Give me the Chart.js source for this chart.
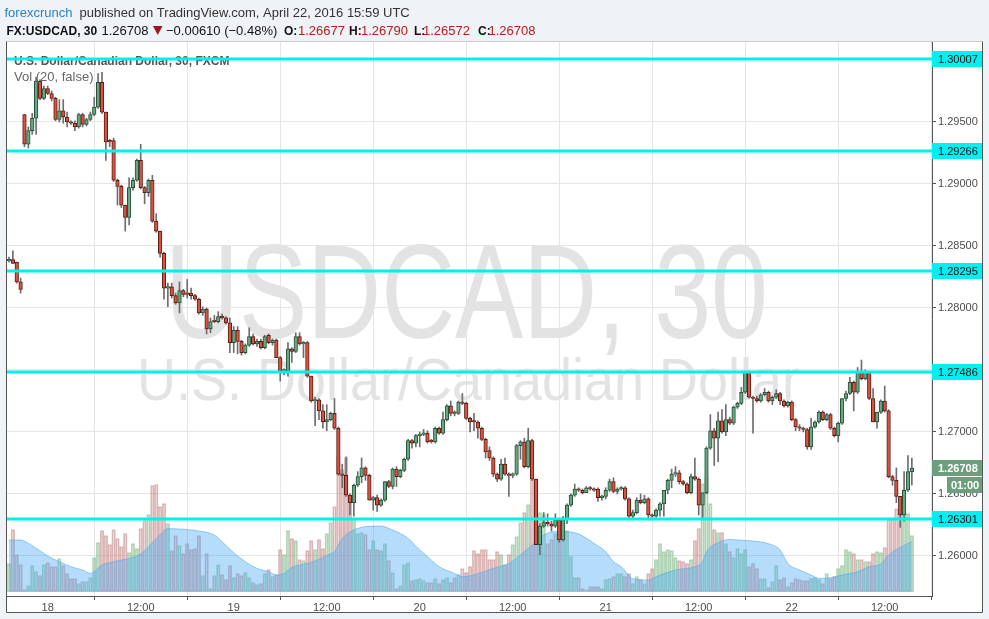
<!DOCTYPE html>
<html>
<head>
<meta charset="utf-8">
<title>USDCAD 30</title>
<script src="https://cdn.jsdelivr.net/npm/chart.js@4.4.1/dist/chart.umd.min.js"></script>
<style>
  html, body { margin: 0; padding: 0; background: #eff2f6; }
  #wrap { position: relative; width: 989px; height: 619px; }
</style>
</head>
<body>
<div id="wrap"><canvas id="chart" width="989" height="619"></canvas></div>
<script>
// 30 min candles, 0 = Friday 15th (last 4 bars), 4 = Sunday open, 10 = 18th 00:00
const opens = [
  1.2838,1.2839,1.2837,1.2821,
  1.2956,1.2932,1.2943,1.2953,1.2983,1.2969,1.2977,1.2973,1.2969,1.2952,
  1.2959,1.2954,1.2950,1.2949,1.2946,1.2956,1.2948,1.2952,1.2956,1.2962,
  1.2982,1.2958,1.2935,1.2935,1.2903,1.2898,1.2883,1.2873,1.2897,1.2903,
  1.2919,1.2897,1.2893,1.2903,1.2870,1.2862,1.2844,1.2816,1.2817,1.2810,
  1.2804,1.2814,1.2812,1.2812,1.2810,1.2807,1.2796,1.2799,1.2783,1.2790,
  1.2789,1.2793,1.2792,1.2788,1.2772,1.2782,1.2773,1.2764,1.2770,1.2777,
  1.2771,1.2773,1.2768,1.2778,1.2772,1.2774,1.2760,1.2749,1.2749,1.2767,
  1.2765,1.2777,1.2771,1.2772,1.2745,1.2725,1.2726,1.2717,1.2708,1.2710,
  1.2715,1.2703,1.2666,1.2665,1.2649,1.2643,1.2657,1.2664,1.2671,1.2665,
  1.2645,1.2647,1.2641,1.2645,1.2660,1.2656,1.2670,1.2664,1.2669,1.2678,
  1.2693,1.2691,1.2697,1.2698,1.2699,1.2693,1.2692,1.2703,1.2699,1.2710,
  1.2721,1.2716,1.2715,1.2724,1.2723,1.2711,1.2709,1.2708,1.2703,1.2694,
  1.2685,1.2679,1.2666,1.2662,1.2674,1.2666,1.2665,1.2666,1.2689,1.2692,
  1.2672,1.2693,1.2662,1.2609,1.2624,1.2627,1.2626,1.2624,1.2629,1.2613,
  1.2629,1.2641,1.2649,1.2654,1.2653,1.2651,1.2655,1.2654,1.2654,1.2647,
  1.2648,1.2653,1.2660,1.2652,1.2654,1.2655,1.2646,1.2632,1.2635,1.2645,
  1.2643,1.2646,1.2633,1.2632,1.2637,1.2642,1.2653,1.2661,1.2666,1.2667,
  1.2660,1.2658,1.2651,1.2664,1.2662,1.2641,1.2651,1.2687,1.2701,1.2695,
  1.2709,1.2700,1.2710,1.2707,1.2720,1.2723,1.2732,1.2748,1.2728,1.2727,
  1.2725,1.2730,1.2732,1.2725,1.2728,1.2731,1.2725,1.2721,1.2724,1.2710,
  1.2704,1.2703,1.2702,1.2688,1.2704,1.2708,1.2716,1.2710,1.2714,1.2703,
  1.2697,1.2707,1.2727,1.2731,1.2740,1.2732,1.2749,1.2743,1.2748,1.2727,
  1.2708,1.2716,1.2725,1.2717,1.2664,1.2661,1.2648,1.2633,1.2653,1.26677
];
const highs = [
  1.2841,1.2846,1.2837,1.2824,
  1.2956,1.2946,1.2957,1.2986,1.2984,1.2979,1.2979,1.2975,1.2970,1.2968,
  1.2968,1.2958,1.2951,1.2951,1.2957,1.2957,1.2953,1.2958,1.2970,1.2989,
  1.2990,1.2958,1.2936,1.2937,1.2904,1.2899,1.2883,1.2905,1.2905,1.2920,
  1.2932,1.2898,1.2904,1.2907,1.2876,1.2862,1.2845,1.2820,1.2820,1.2812,
  1.2821,1.2815,1.2823,1.2816,1.2811,1.2808,1.2801,1.2800,1.2792,1.2794,
  1.2797,1.2795,1.2793,1.2792,1.2785,1.2785,1.2774,1.2771,1.2784,1.2779,
  1.2775,1.2775,1.2778,1.2779,1.2775,1.2775,1.2761,1.2751,1.2772,1.2768,
  1.2780,1.2780,1.2773,1.2773,1.2745,1.2728,1.2727,1.2722,1.2722,1.2716,
  1.2727,1.2704,1.2674,1.2680,1.2650,1.2658,1.2668,1.2679,1.2672,1.2666,
  1.2648,1.2649,1.2646,1.2660,1.2661,1.2671,1.2672,1.2670,1.2679,1.2694,
  1.2694,1.2698,1.2700,1.2702,1.2701,1.2694,1.2704,1.2704,1.2716,1.2722,
  1.2725,1.2717,1.2725,1.2731,1.2724,1.2712,1.2715,1.2709,1.2704,1.2695,
  1.2688,1.2680,1.2667,1.2678,1.2679,1.2667,1.2667,1.2690,1.2693,1.2695,
  1.2703,1.2694,1.2662,1.2626,1.2635,1.2634,1.2628,1.2634,1.2630,1.2632,
  1.2642,1.2650,1.2658,1.2655,1.2654,1.2656,1.2656,1.2655,1.2655,1.2649,
  1.2655,1.2662,1.2663,1.2655,1.2656,1.2656,1.2647,1.2637,1.2647,1.2650,
  1.2649,1.2647,1.2634,1.2638,1.2643,1.2653,1.2662,1.2670,1.2672,1.2669,
  1.2661,1.2659,1.2666,1.2679,1.2663,1.2651,1.2688,1.2714,1.2703,1.2716,
  1.2718,1.2722,1.2712,1.2721,1.2724,1.2736,1.2749,1.2749,1.2729,1.2729,
  1.2731,1.2735,1.2733,1.2729,1.2734,1.2732,1.2726,1.2725,1.2725,1.2711,
  1.2706,1.2704,1.2703,1.2711,1.2709,1.2717,1.2717,1.2715,1.2715,1.2704,
  1.2708,1.2727,1.2733,1.2744,1.2741,1.2752,1.2758,1.2750,1.2749,1.2735,
  1.2716,1.2726,1.2737,1.2718,1.2665,1.2671,1.2648,1.2668,1.2681,1.2679
];
const lows = [
  1.2837,1.2836,1.2820,1.2812,
  1.2930,1.2929,1.2940,1.2940,1.2968,1.2968,1.2972,1.2967,1.2951,1.2950,
  1.2949,1.2946,1.2948,1.2943,1.2945,1.2946,1.2947,1.2951,1.2955,1.2961,
  1.2957,1.2919,1.2930,1.2902,1.2883,1.2881,1.2862,1.2867,1.2895,1.2902,
  1.2896,1.2884,1.2890,1.2869,1.2861,1.2841,1.2807,1.2801,1.2808,1.2803,
  1.2796,1.2809,1.2808,1.2807,1.2806,1.2795,1.2794,1.2779,1.2780,1.2788,
  1.2788,1.2791,1.2787,1.2764,1.2764,1.2763,1.2762,1.2763,1.2769,1.2770,
  1.2769,1.2767,1.2767,1.2771,1.2770,1.2760,1.2741,1.2746,1.2745,1.2756,
  1.2764,1.2770,1.2760,1.2744,1.2724,1.2705,1.2710,1.2703,1.2701,1.2709,
  1.2702,1.2665,1.2655,1.2648,1.2633,1.2632,1.2656,1.2659,1.2661,1.2645,
  1.2637,1.2636,1.2640,1.2644,1.2655,1.2654,1.2656,1.2663,1.2668,1.2677,
  1.2687,1.2688,1.2688,1.2697,1.2691,1.2691,1.2691,1.2698,1.2698,1.2709,
  1.2713,1.2713,1.2714,1.2722,1.2710,1.2700,1.2701,1.2695,1.2693,1.2679,
  1.2677,1.2664,1.2660,1.2661,1.2665,1.2648,1.2663,1.2665,1.2678,1.2671,
  1.2671,1.2661,1.2609,1.2601,1.2623,1.2624,1.2620,1.2623,1.2611,1.2612,
  1.2626,1.2640,1.2648,1.2652,1.2650,1.2651,1.2653,1.2652,1.2644,1.2645,
  1.2646,1.2652,1.2651,1.2650,1.2653,1.2645,1.2630,1.2630,1.2634,1.2642,
  1.2642,1.2629,1.2629,1.2631,1.2632,1.2632,1.2650,1.2655,1.2664,1.2658,
  1.2657,1.2650,1.2650,1.2661,1.2633,1.2631,1.2650,1.2686,1.2673,1.2676,
  1.2699,1.2697,1.2706,1.2706,1.2719,1.2722,1.2731,1.2727,1.2699,1.2724,
  1.2724,1.2729,1.2724,1.2722,1.2727,1.2722,1.2720,1.2720,1.2709,1.2701,
  1.2701,1.2700,1.2686,1.2686,1.2703,1.2707,1.2709,1.2709,1.2702,1.2696,
  1.2692,1.2706,1.2725,1.2730,1.2717,1.2731,1.2742,1.2742,1.2726,1.2708,
  1.2703,1.2715,1.2716,1.2663,1.2657,1.2643,1.2623,1.2628,1.2652,1.26572
];
const closes = [
  1.2839,1.2836,1.2821,1.2815,
  1.2932,1.2943,1.2953,1.2983,1.2969,1.2977,1.2973,1.2969,1.2952,1.2959,
  1.2954,1.2950,1.2949,1.2946,1.2956,1.2948,1.2952,1.2956,1.2962,1.2982,
  1.2958,1.2934,1.2934,1.2903,1.2898,1.2883,1.2873,1.2897,1.2903,1.2919,
  1.2897,1.2893,1.2903,1.2870,1.2862,1.2844,1.2816,1.2817,1.2810,1.2804,
  1.2814,1.2811,1.2811,1.2810,1.2807,1.2796,1.2799,1.2783,1.2789,1.2789,
  1.2793,1.2792,1.2788,1.2772,1.2782,1.2773,1.2764,1.2770,1.2777,1.2771,
  1.2773,1.2768,1.2777,1.2772,1.2774,1.2760,1.2749,1.2750,1.2767,1.2765,
  1.2777,1.2771,1.2772,1.2745,1.2725,1.2726,1.2717,1.2708,1.2710,1.2715,
  1.2703,1.2666,1.2665,1.2649,1.2643,1.2657,1.2664,1.2671,1.2665,1.2645,
  1.2647,1.2641,1.2645,1.2660,1.2656,1.2670,1.2664,1.2669,1.2678,1.2693,
  1.2691,1.2697,1.2698,1.2699,1.2692,1.2692,1.2703,1.2699,1.2710,1.2721,
  1.2715,1.2715,1.2724,1.2723,1.2711,1.2708,1.2708,1.2703,1.2694,1.2684,
  1.2679,1.2666,1.2662,1.2674,1.2666,1.2665,1.2666,1.2689,1.2692,1.2672,
  1.2693,1.2662,1.2609,1.2624,1.2627,1.2626,1.2624,1.2629,1.2613,1.2629,
  1.2641,1.2649,1.2654,1.2653,1.2651,1.2655,1.2654,1.2653,1.2647,1.2648,
  1.2653,1.2660,1.2652,1.2654,1.2655,1.2646,1.2632,1.2635,1.2645,1.2643,
  1.2646,1.2633,1.2632,1.2637,1.2642,1.2653,1.2661,1.2666,1.2667,1.2660,
  1.2658,1.2651,1.2664,1.2662,1.2641,1.2651,1.2687,1.2701,1.2695,1.2709,
  1.2700,1.2710,1.2707,1.2720,1.2723,1.2732,1.2748,1.2728,1.2727,1.2725,
  1.2730,1.2732,1.2725,1.2728,1.2731,1.2725,1.2721,1.2724,1.2710,1.2704,
  1.2703,1.2702,1.2688,1.2704,1.2708,1.2716,1.2710,1.2714,1.2703,1.2697,
  1.2707,1.2727,1.2731,1.2740,1.2732,1.2749,1.2743,1.2748,1.2727,1.2708,
  1.2716,1.2725,1.2717,1.2664,1.2661,1.2648,1.2633,1.2653,1.2668,1.26708
];
const volumes = [
  28,62,37,27,
  2,6,26,20,16,27,29,25,25,33,
  26,18,13,13,8,10,10,14,34,49,
  61,56,47,62,53,45,58,39,48,43,
  63,71,77,106,107,85,88,68,41,56,
  46,38,48,42,43,56,16,38,3,16,
  27,17,12,26,14,18,16,19,14,9,
  7,8,18,22,15,17,42,37,61,53,
  51,32,31,41,51,42,52,43,58,69,
  85,136,122,134,95,73,58,59,57,42,
  51,42,41,48,31,19,3,6,27,29,
  11,12,13,11,9,9,13,8,12,14,
  9,14,17,23,19,25,41,38,42,42,
  32,32,40,37,27,37,47,55,69,79,
  87,112,108,79,77,48,52,58,65,62,
  61,35,14,14,3,2,5,5,5,3,
  12,13,15,18,18,15,18,8,15,12,
  8,18,23,32,48,40,42,41,34,31,
  30,28,32,51,63,108,114,88,62,59,
  59,48,40,34,43,38,42,25,28,23,
  13,13,4,10,26,12,14,5,9,13,
  12,11,11,13,14,12,8,18,13,15,
  23,26,42,40,38,32,32,30,30,38,
  40,39,44,72,72,83,82,79,78,56
];
// Vol MA(20) at these bars
const maIdx  = [0,3,5,8,10,13,16,19,21,22,24,26,29,31,34,36,39,41,44,49,53,55,58,61,64,67,69,71,73,77,80,83,84,86,89,92,96,98,101,103,106,109,111,115,117,120,121,125,129,134,138,141,144,147,151,154,156,158,161,165,167,172,177,179,180,183,186,188,192,196,199,201,204,207,209,212,215,219,222,225,227,230,233];
const maVals = [51.7,51.7,48.3,41,35.7,30,25,21.7,18.3,20,26.7,29,31.7,33.3,37.7,45,57,63,62.7,60.7,56.7,50,39,30,23.3,20,16.7,18.3,24.3,28.3,32.3,38,40,53.3,61.7,65,65.7,63.3,58.3,53.3,41.7,31.7,25,18.3,15,16.7,18,23.3,28.3,43.3,56.7,60,60,57.7,48.3,40,30,25,13,11.7,15,21.7,25,30,40,49,52.3,51.7,50.7,48,41.7,28.3,21.7,16.7,13.3,14,16.7,20,25,27.7,36.7,44.3,50];

const levels = [1.30007, 1.29266, 1.28295, 1.27486, 1.26301];
const priceTicks = [1.260, 1.265, 1.270, 1.275, 1.280, 1.285, 1.290, 1.295, 1.300];
const timeTickIdx = [10, 34, 58, 82, 106, 130, 154, 178, 202, 226];
const timeTickLabels = ['18', '12:00', '19', '12:00', '20', '12:00', '21', '12:00', '22', '12:00'];
const lastPrice = 1.26708;
const countdown = '01:00';

const FONT = '"Liberation Sans", Arial, sans-serif';
Chart.defaults.font.family = FONT;

const idx = opens.map((_, i) => i);
const isUp = idx.map(i => closes[i] >= opens[i]);

function fitText(c, text, cx, baseline, size, width) {
  c.font = size + 'px ' + FONT;
  const w = c.measureText(text).width;
  c.save();
  c.translate(cx, baseline);
  c.scale(width / w, 1);
  c.textAlign = 'center';
  c.fillText(text, 0, 0);
  c.restore();
}

function put(c, text, x, y, font, color) {
  c.font = font;
  c.fillStyle = color;
  c.fillText(text, x, y);
}

const framePlugin = {
  id: 'frame',
  beforeDraw(chart) {
    const c = chart.ctx;
    c.save();
    c.fillStyle = '#eff2f6';
    c.fillRect(0, 0, chart.width, chart.height);
    c.fillStyle = '#ffffff';
    c.fillRect(6.5, 41.5, 976, 571);

    // header lines
    c.textBaseline = 'alphabetic';
    c.textAlign = 'left';
    put(c, 'forexcrunch', 4.5, 17, '13px ' + FONT, '#2a83c2');
    put(c, 'published on TradingView.com, April 22, 2016 15:59 UTC', 79.5, 17, '13px ' + FONT, '#333');

    const b = 'bold 12px ' + FONT, n = '13px ' + FONT, red = '#b3201f';
    put(c, 'FX:USDCAD, 30', 6.5, 35, b, '#111');
    put(c, '1.26708', 101.5, 35, n, '#111');
    c.fillStyle = '#9b1b1b';
    c.beginPath(); c.moveTo(153, 26); c.lineTo(162.5, 26); c.lineTo(157.75, 35); c.closePath(); c.fill();
    put(c, '\u22120.00610 (\u22120.48%)', 166, 35, n, '#111');
    put(c, 'O:', 284, 35, b, '#111'); put(c, '1.26677', 298, 35, n, red);
    put(c, 'H:', 349, 35, b, '#111'); put(c, '1.26790', 361, 35, n, red);
    put(c, 'L:', 414, 35, b, '#111'); put(c, '1.26572', 423, 35, n, red);
    put(c, 'C:', 478, 35, b, '#111'); put(c, '1.26708', 488.5, 35, n, red);
    c.restore();
  },
  beforeDatasetsDraw(chart) {
    const c = chart.ctx, a = chart.chartArea;
    c.save();
    c.beginPath(); c.rect(a.left, a.top, a.right - a.left, a.bottom - a.top); c.clip();
    c.fillStyle = '#e3e3e3';
    fitText(c, 'USDCAD, 30', 466.5, 338, 133, 603);
    fitText(c, 'U.S. Dollar/Canadian Dollar', 468.5, 400, 60, 663);
    c.restore();
  },
  afterDatasetsDraw(chart) {
    const c = chart.ctx, a = chart.chartArea, y = chart.scales.y;
    c.save();
    c.textBaseline = 'alphabetic';
    c.textAlign = 'left';
    put(c, 'U.S. Dollar/Canadian Dollar, 30, FXCM', 14, 64.5, 'bold 12px ' + FONT, '#555');
    put(c, 'Vol (20, false)', 14, 81, '13px ' + FONT, '#666');

    // horizontal levels
    c.strokeStyle = '#00f0f2';
    c.lineWidth = 3;
    levels.forEach(p => {
      const py = Math.round(y.getPixelForValue(p));
      c.beginPath(); c.moveTo(a.left, py); c.lineTo(a.right, py); c.stroke();
    });
    c.font = '11px ' + FONT;
    c.textBaseline = 'middle';
    levels.forEach(p => {
      const py = Math.round(y.getPixelForValue(p));
      c.fillStyle = '#00f0f2';
      c.fillRect(a.right, py - 8, 50, 16);
      c.fillStyle = '#111';
      c.fillText(p.toFixed(5), a.right + 6, py + 0.5);
    });

    // last price + countdown
    const ly = Math.round(y.getPixelForValue(lastPrice));
    c.fillStyle = '#6c9f7e';
    c.fillRect(a.right, ly - 8, 50, 16);
    c.fillRect(a.right + 15, ly + 9, 35, 16);
    c.fillStyle = '#fff';
    c.font = 'bold 11px ' + FONT;
    c.fillText(lastPrice.toFixed(5), a.right + 6, ly + 0.5);
    c.fillText(countdown, a.right + 19, ly + 17.5);
    c.restore();
  },
  afterDraw(chart) {
    const c = chart.ctx;
    c.save();
    c.lineWidth = 1;
    c.strokeStyle = '#c9cdd2';
    c.beginPath(); c.moveTo(6.5, 41.5); c.lineTo(982.5, 41.5); c.stroke();
    c.strokeStyle = '#555';
    c.beginPath();
    c.moveTo(6.5, 41.5); c.lineTo(6.5, 612.5); c.lineTo(982.5, 612.5); c.lineTo(982.5, 41.5);
    c.stroke();
    c.restore();
  }
};

new Chart(document.getElementById('chart'), {
  type: 'bar',
  data: {
    datasets: [
      {
        label: 'Volume',
        type: 'bar',
        yAxisID: 'yv',
        order: 4,
        grouped: false,
        barThickness: 3.6,
        data: idx.map(i => ({ x: i, y: volumes[i] })),
        backgroundColor: idx.map(i => isUp[i] ? 'rgba(107,175,120,0.25)' : 'rgba(200,110,110,0.22)'),
        borderColor: idx.map(i => isUp[i] ? 'rgba(100,170,110,0.45)' : 'rgba(180,110,110,0.45)'),
        borderWidth: 1,
        borderSkipped: false
      },
      {
        label: 'Vol MA',
        type: 'line',
        yAxisID: 'yv',
        order: 3,
        data: maIdx.map((x, k) => ({ x: x, y: maVals[k] })),
        fill: 'origin',
        backgroundColor: 'rgba(70,170,245,0.4)',
        borderColor: 'rgba(70,165,240,0.55)',
        borderWidth: 1,
        pointRadius: 0,
        cubicInterpolationMode: 'monotone'
      },
      {
        label: 'Wicks',
        type: 'bar',
        yAxisID: 'y',
        order: 2,
        grouped: false,
        barThickness: 1,
        data: idx.map(i => ({ x: i, y: [lows[i], highs[i]] })),
        backgroundColor: '#6e6e70'
      },
      {
        label: 'Bodies',
        type: 'bar',
        yAxisID: 'y',
        order: 1,
        grouped: false,
        barThickness: 3.6,
        minBarLength: 1.5,
        data: idx.map(i => ({ x: i, y: [opens[i], closes[i]] })),
        backgroundColor: idx.map(i => isUp[i] ? '#6ba583' : '#d75442'),
        borderColor: idx.map(i => isUp[i] ? '#225437' : '#5b1a13'),
        borderWidth: 1,
        borderSkipped: false
      }
    ]
  },
  options: {
    responsive: false,
    animation: false,
    devicePixelRatio: 1,
    layout: { padding: { left: 6, top: 42, right: 7, bottom: 7 } },
    plugins: { legend: { display: false }, tooltip: { enabled: false } },
    scales: {
      x: {
        type: 'linear',
        min: -0.77,
        max: 238.2,
        offset: false,
        afterBuildTicks: s => { s.ticks = timeTickIdx.map(v => ({ value: v })); },
        afterFit: s => { s.height = 16; },
        ticks: {
          autoSkip: false,
          maxRotation: 0,
          padding: 1,
          color: '#4d4d4d',
          font: { size: 11 },
          callback: (v, i) => timeTickLabels[i]
        },
        grid: { color: '#e5e5e5', tickColor: '#555', tickLength: 4 },
        border: { color: '#555' }
      },
      y: {
        position: 'right',
        min: 1.25677,
        max: 1.30145,
        afterBuildTicks: s => { s.ticks = priceTicks.map(v => ({ value: v })); },
        afterFit: s => { s.width = 50; },
        ticks: {
          color: '#4d4d4d',
          padding: 2,
          font: { size: 11 },
          callback: v => v.toFixed(5)
        },
        grid: { color: '#e5e5e5', tickColor: '#555', tickLength: 4 },
        border: { color: '#555' }
      },
      yv: { display: false, min: -4.3, max: 549.7 }
    }
  },
  plugins: [framePlugin]
});
</script>
</body>
</html>
